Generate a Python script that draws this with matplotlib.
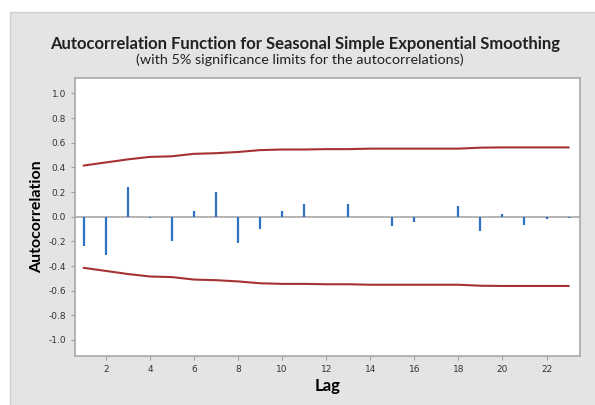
import numpy as np
import matplotlib.pyplot as plt
from matplotlib.patches import Rectangle

# ACF values
lags = list(range(1, 24))
acf = [-0.235, -0.31, 0.24, -0.01, -0.20, 0.045, 0.20, -0.21, -0.10, 0.045,
       0.10, 0.0, 0.10, 0.0, -0.075, -0.04, 0.0, 0.09, -0.115, 0.02,
       -0.065, -0.017, -0.008]
# 5% significance limit (upper; lower is the mirror)
limit = [0.415, 0.44, 0.465, 0.485, 0.49, 0.51, 0.515, 0.525, 0.54, 0.545,
         0.545, 0.548, 0.548, 0.552, 0.552, 0.552, 0.552, 0.552, 0.56, 0.562,
         0.562, 0.562, 0.562]
yticks = [-1.0, -0.8, -0.6, -0.4, -0.2, 0.0, 0.2, 0.4, 0.6, 0.8, 1.0]
xticks = list(range(2, 24, 2))

fig = plt.figure(figsize=(5.95, 4.05), dpi=100)
fig.patch.set_facecolor('white')
# grey panel behind the graph
panel = Rectangle((10/595, -0.01), 1, 1.01 - 12/405, transform=fig.transFigure,
                  facecolor='#e4e4e4', edgecolor='#cfcfcf', lw=1, zorder=-10)
fig.add_artist(panel)

ax = fig.add_axes([75/595, 1 - 356/405, (580-75)/595, (356-78)/405])
ax.set_zorder(5)
ax.set_facecolor('white')

ax.axhline(0, color='#a8a8a8', lw=1.2, zorder=1)
ax.vlines(lags, 0, acf, color='#2e72c0', lw=1.6, zorder=2)
lim = np.array(limit)
ax.plot(lags, lim, color='#a83232', lw=1.5, zorder=3)
ax.plot(lags, -lim, color='#a83232', lw=1.5, zorder=3)

ax.set_xlim(0.6, 23.52)
ax.set_ylim(-1.13, 1.125)
ax.set_yticks(yticks)
ax.set_yticklabels(['%.1f' % v for v in yticks])
ax.set_xticks(xticks)
ax.tick_params(labelsize=6.5, colors='#a0a0a0', labelcolor='#333333', length=3, width=0.8)
for s in ax.spines.values():
    s.set_color('#a8a8a8')
    s.set_linewidth(1.2)

ax.set_xlabel('Lag', fontsize=12, fontweight='bold', family='Lato', labelpad=3)
ax.set_ylabel('Autocorrelation', fontsize=11.5, fontweight='bold', family='Lato', labelpad=3)

fig.text(305/595, 1 - 44/405, 'Autocorrelation Function for Seasonal Simple Exponential Smoothing',
         ha='center', va='center', fontsize=12, fontweight='bold', family='Lato', color='#222222')
fig.text(300/595, 1 - 60/405, '(with 5% significance limits for the autocorrelations)',
         ha='center', va='center', fontsize=10.4, family='Lato', color='#222222')

fig.savefig('out.png', dpi=100)
